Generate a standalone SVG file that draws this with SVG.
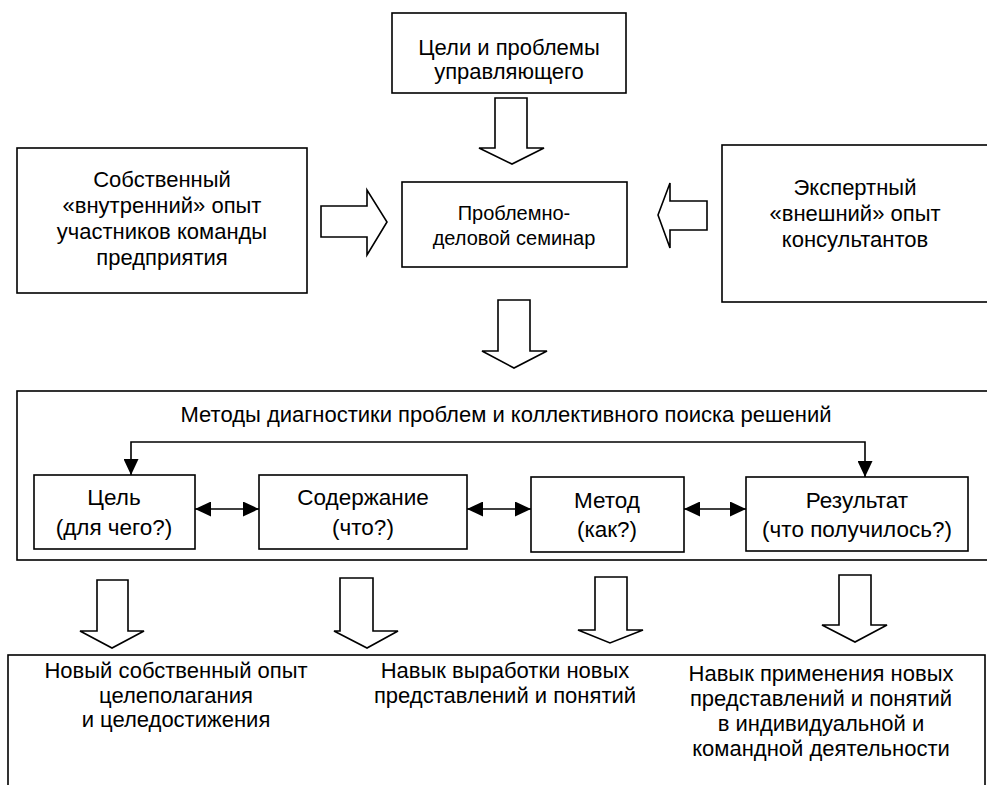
<svg xmlns="http://www.w3.org/2000/svg" width="987" height="785" viewBox="0 0 987 785">
<style>
  .box { fill: #fff; stroke: #000; stroke-width: 1.6; }
  .blk { fill: #fff; stroke: #000; stroke-width: 1.6; stroke-linejoin: miter; }
  .ln { fill: none; stroke: #000; stroke-width: 1.6; }
  text { font-family: "Liberation Sans", Arial, sans-serif; fill: #000; text-anchor: middle; }
  .t { font-size: 22.5px; }
  .m { font-size: 22px; }
  .s { font-size: 20px; }
</style>
<defs>
  <marker id="ah" viewBox="0 0 16 15" refX="16" refY="7.5" markerUnits="userSpaceOnUse" markerWidth="16" markerHeight="15" orient="auto-start-reverse">
    <path d="M0,0 L16,7.5 L0,15 z" fill="#000"/>
  </marker>
</defs>
<rect width="987" height="785" fill="#fff"/>

<g id="goals">
  <rect class="box" x="392" y="13" width="234" height="80"/>
  <text class="m" x="509" y="55">Цели и проблемы</text>
  <text class="m" x="509" y="79">управляющего</text>
</g>
<g id="internal">
  <rect class="box" x="17" y="148" width="290" height="145"/>
  <text class="m" x="162" y="187">Собственный</text>
  <text class="m" x="162" y="213">«внутренний» опыт</text>
  <text class="m" x="162" y="239">участников команды</text>
  <text class="m" x="162" y="265">предприятия</text>
</g>
<g id="seminar">
  <rect class="box" x="402" y="182" width="225" height="85"/>
  <text class="s" x="514" y="220">Проблемно-</text>
  <text class="s" x="514" y="245">деловой семинар</text>
</g>
<g id="external">
  <rect class="box" x="722" y="145" width="280" height="157"/>
  <text class="m" x="855" y="195">Экспертный</text>
  <text class="m" x="855" y="221">«внешний» опыт</text>
  <text class="m" x="855" y="247">консультантов</text>
</g>
<g id="methods">
  <rect class="box" x="17" y="391" width="985" height="169"/>
  <text class="m" x="506" y="422">Методы диагностики проблем и коллективного поиска решений</text>
</g>
<g id="goal">
  <rect class="box" x="34" y="475" width="161" height="74"/>
  <text class="t" x="114" y="505">Цель</text>
  <text class="t" x="114" y="535">(для чего?)</text>
</g>
<g id="content">
  <rect class="box" x="259" y="475" width="208" height="74"/>
  <text class="t" x="363" y="505">Содержание</text>
  <text class="t" x="363" y="535">(что?)</text>
</g>
<g id="method">
  <rect class="box" x="531" y="477" width="153" height="75"/>
  <text class="t" x="607" y="508">Метод</text>
  <text class="t" x="607" y="537">(как?)</text>
</g>
<g id="result">
  <rect class="box" x="746" y="477" width="222" height="74"/>
  <text class="t" x="857" y="508">Результат</text>
  <text class="t" x="857" y="537">(что получилось?)</text>
</g>
<g id="outcomes">
  <rect class="box" x="8" y="655" width="977" height="140"/>
  <text class="m" x="176" y="678">Новый собственный опыт</text>
  <text class="m" x="176" y="702.5">целеполагания</text>
  <text class="m" x="176" y="727">и целедостижения</text>
  <text class="m" x="505" y="678">Навык выработки новых</text>
  <text class="m" x="505" y="702.5">представлений и понятий</text>
  <text class="m" x="821" y="681">Навык применения новых</text>
  <text class="m" x="821" y="706">представлений и понятий</text>
  <text class="m" x="821" y="731">в индивидуальной и</text>
  <text class="m" x="821" y="756">командной деятельности</text>
</g>

<g id="connectors">
  <polygon class="blk" points="495,98 527,98 527,148 544,148 512,164 479,148 495,148"/>
  <polygon class="blk" points="321,206 367,206 367,190 387,222 367,255 367,237 321,237"/>
  <polygon class="blk" points="707,201 670,201 670,183 658,215 670,248 670,230 707,230"/>
  <polygon class="blk" points="498,300 530,300 530,351 547,351 514,368 482,351 498,351"/>
  <polygon class="blk" points="97,580 128,580 128,631 144,631 112,648 80,631 97,631"/>
  <polygon class="blk" points="340,578 373,578 373,631 398,631 367,648 334,631 340,631"/>
  <polygon class="blk" points="595,577 627,577 627,630 643,630 610,643 578,630 595,630"/>
  <polygon class="blk" points="839,575 871,575 871,625 887,625 855,642 822,625 839,625"/>
  <path class="ln" d="M131,475 V442 H865 V477" marker-start="url(#ah)" marker-end="url(#ah)"/>
  <path class="ln" d="M195,509 H259" marker-start="url(#ah)" marker-end="url(#ah)"/>
  <path class="ln" d="M467,509 H531" marker-start="url(#ah)" marker-end="url(#ah)"/>
  <path class="ln" d="M684,509 H746" marker-start="url(#ah)" marker-end="url(#ah)"/>
</g>
</svg>
